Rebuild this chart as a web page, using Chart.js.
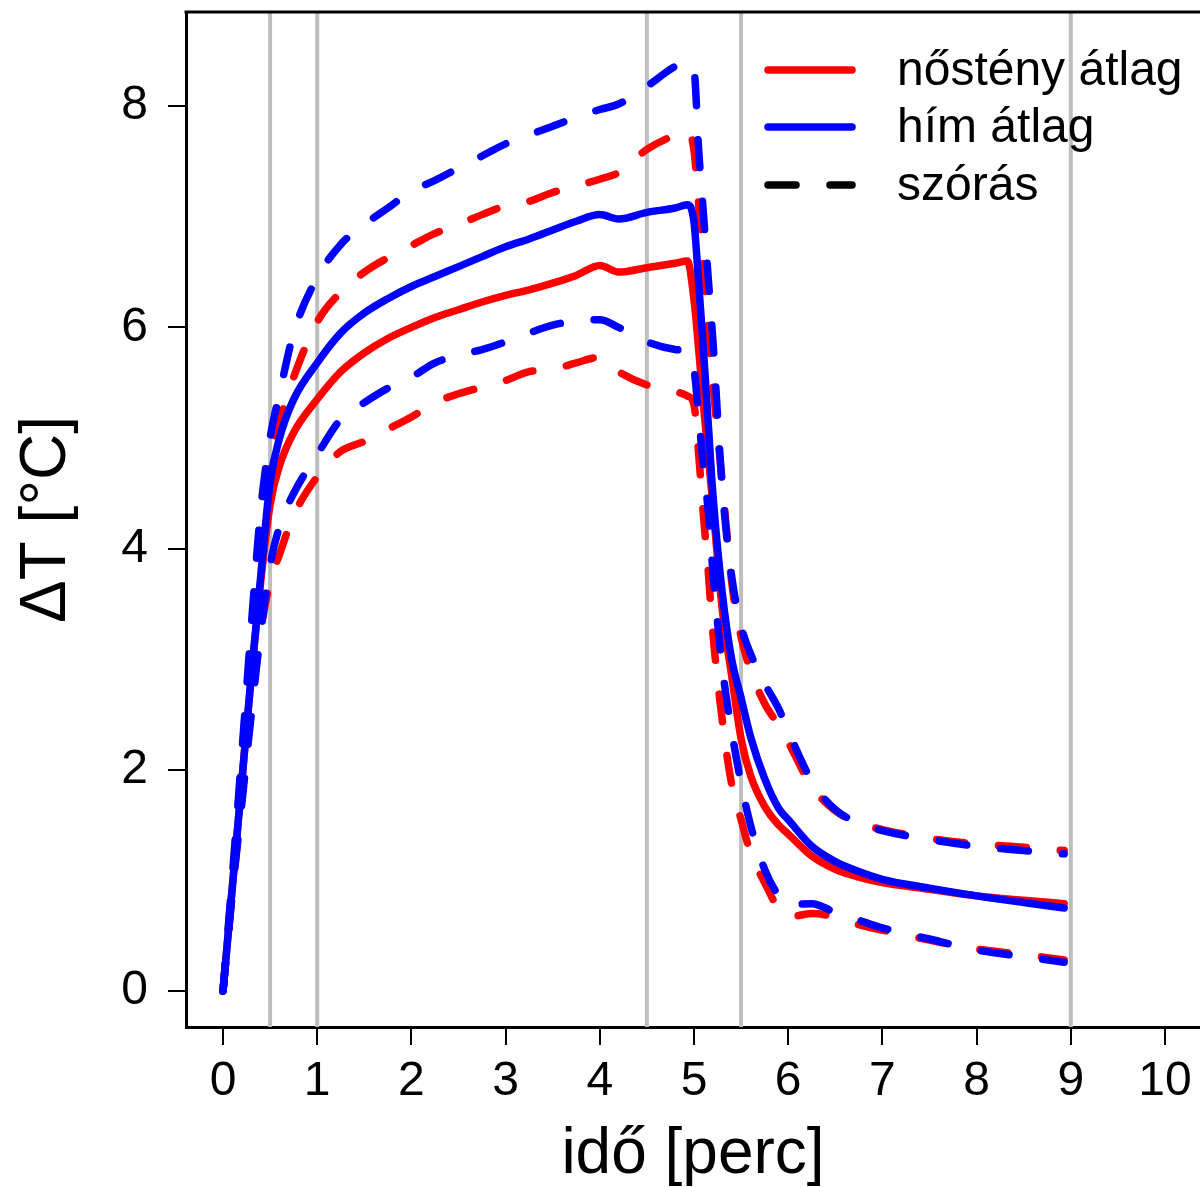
<!DOCTYPE html>
<html>
<head>
<meta charset="utf-8">
<title>ΔT idő szerint</title>
<script src="https://cdn.jsdelivr.net/npm/chart.js@4.4.1/dist/chart.umd.min.js"></script>
<style>
    html, body { margin: 0; padding: 0; background: #fff; overflow: hidden; }
    #wrap { width: 1200px; height: 1187px; }
</style>
</head>
<body>
<div id="wrap"><canvas id="chart" width="1200" height="1187"></canvas></div>
<script>
// Idő (perc)
const TIME = [0, 0.1, 0.2, 0.3, 0.4,
    0.5, 0.6, 0.75, 1.0, 1.25,
    1.5, 1.75, 2.0, 2.25, 2.5,
    2.75, 3.0, 3.25, 3.5, 3.75,
    4.0, 4.2, 4.5, 4.8, 4.93,
    5.0, 5.05, 5.1, 5.15, 5.2,
    5.3, 5.4, 5.5, 5.6, 5.75,
    5.9, 6.0, 6.25, 6.5, 6.75,
    7.0, 7.5, 8.0, 8.5, 8.93];

// nőstény átlag
const FEMALE_MEAN = [0, 0.95, 1.9, 2.85, 3.7,
    4.4, 4.75, 5.05, 5.35, 5.6,
    5.77, 5.9, 6.0, 6.09, 6.16,
    6.23, 6.29, 6.34, 6.4, 6.47,
    6.56, 6.5, 6.54, 6.58, 6.6,
    6.25, 5.8, 5.3, 4.85, 4.4,
    3.45, 2.85, 2.28, 1.95, 1.67,
    1.5, 1.42, 1.22, 1.1, 1.03,
    0.98, 0.92, 0.86, 0.82, 0.79];

// hím átlag
const MALE_MEAN = [0, 0.95, 1.9, 2.85, 3.75,
    4.6, 5.0, 5.35, 5.68, 5.95,
    6.13, 6.26, 6.37, 6.46, 6.55,
    6.64, 6.73, 6.8, 6.88, 6.96,
    7.02, 6.98, 7.04, 7.08, 7.11,
    6.95, 6.4, 5.8, 5.15, 4.5,
    3.6, 3.0, 2.65, 2.3, 1.92,
    1.65, 1.55, 1.31, 1.17, 1.08,
    1.01, 0.93, 0.86, 0.8, 0.75];

// átlag +/- szórás
const FEMALE_UPPER = [0, 1.0, 2.1, 3.2, 4.2,
    4.85, 5.15, 5.55, 6.05, 6.32,
    6.5, 6.63, 6.74, 6.85, 6.93,
    7.02, 7.1, 7.14, 7.22, 7.28,
    7.34, 7.4, 7.61, 7.74, 7.78,
    7.6, 7.1, 6.55, 6.0, 5.5,
    4.6, 3.7, 3.2, 2.9, 2.6,
    2.4, 2.25, 1.85, 1.63, 1.52,
    1.46, 1.38, 1.33, 1.3, 1.27];

const FEMALE_LOWER = [0, 0.9, 1.75, 2.55, 3.25,
    3.7, 3.95, 4.3, 4.65, 4.88,
    4.97, 5.08, 5.19, 5.32, 5.4,
    5.46, 5.52, 5.6, 5.62, 5.68,
    5.73, 5.6, 5.48, 5.42, 5.38,
    5.3, 4.85, 4.3, 3.81, 3.24,
    2.45, 1.87, 1.55, 1.25, 0.98,
    0.74, 0.67, 0.7, 0.67, 0.6,
    0.55, 0.46, 0.38, 0.33, 0.28];

const MALE_UPPER = [0, 1.05, 2.15, 3.3, 4.35,
    5.0, 5.4, 5.95, 6.45, 6.75,
    6.93, 7.08, 7.23, 7.33, 7.44,
    7.55, 7.66, 7.74, 7.82, 7.9,
    7.97, 8.02, 8.18, 8.36, 8.4,
    8.33, 7.6, 7.03, 6.46, 5.89,
    4.55, 3.75, 3.3, 3.05, 2.78,
    2.55, 2.35, 1.9, 1.64, 1.52,
    1.45, 1.37, 1.31, 1.27, 1.24];

const MALE_LOWER = [0, 0.9, 1.7, 2.5, 3.25,
    3.85, 4.2, 4.5, 4.85, 5.17,
    5.32, 5.45, 5.55, 5.68, 5.75,
    5.8, 5.87, 5.95, 6.02, 6.06,
    6.07, 6.0, 5.87, 5.8, 5.77,
    5.62, 5.2, 4.74, 4.35, 3.8,
    2.93, 2.35, 1.88, 1.5, 1.1,
    0.86, 0.78, 0.79, 0.71, 0.64,
    0.57, 0.47, 0.37, 0.31, 0.26];

const X_TICKS = [0, 1, 2, 3, 4, 5, 6, 7, 8, 9, 10];
const Y_TICKS = [0, 2, 4, 6, 8];
const MARKER_LINES = [0.5, 1, 4.5, 5.5, 9];
const LEGEND_LABELS = ['nőstény átlag', 'hím átlag', 'szórás'];

const FONT = "'Liberation Sans', Arial, Helvetica, sans-serif";
const RED = '#ff0000';
const BLUE = '#0000ff';
const DASH = [28, 34];

function pts(values) {
    return TIME.map((t, i) => ({ x: t, y: values[i] }));
}

function series(label, values, color, dashed, order) {
    return {
        label: label,
        data: pts(values),
        borderColor: color,
        backgroundColor: color,
        borderWidth: 7.5,
        borderDash: dashed ? DASH : [],
        borderCapStyle: 'round',
        borderJoinStyle: 'round',
        pointRadius: 0,
        cubicInterpolationMode: 'monotone',
        fill: false,
        order: order
    };
}

// szürke függőleges vonalak
const markerPlugin = {
    id: 'markers',
    beforeDatasetsDraw(chart) {
        const { ctx, chartArea, scales } = chart;
        ctx.save();
        ctx.strokeStyle = '#bebebe';
        ctx.lineWidth = 4;
        MARKER_LINES.forEach(v => {
            const x = scales.x.getPixelForValue(v);
            ctx.beginPath();
            ctx.moveTo(x, chartArea.top);
            ctx.lineTo(x, chartArea.bottom);
            ctx.stroke();
        });
        ctx.restore();
    }
};

// keret felső vonala + jelmagyarázat
const framePlugin = {
    id: 'frame',
    afterDraw(chart) {
        const { ctx, chartArea } = chart;
        ctx.save();
        ctx.strokeStyle = '#000';
        ctx.lineWidth = 3;
        ctx.beginPath();
        ctx.moveTo(chartArea.left - 1.5, chartArea.top);
        ctx.lineTo(chartArea.right + 2, chartArea.top);
        ctx.stroke();

        const colors = [RED, BLUE, '#000'];
        const rows = [70, 127, 185];
        ctx.lineCap = 'round';
        ctx.lineWidth = 7.5;
        LEGEND_LABELS.forEach((label, i) => {
            ctx.strokeStyle = colors[i];
            ctx.setLineDash(i === 2 ? DASH : []);
            ctx.beginPath();
            ctx.moveTo(768, rows[i]);
            ctx.lineTo(852, rows[i]);
            ctx.stroke();
            ctx.setLineDash([]);
            ctx.fillStyle = '#000';
            ctx.font = '48px ' + FONT;
            ctx.textBaseline = 'middle';
            ctx.textAlign = 'left';
            ctx.fillText(label, 897, rows[i] + 2);
        });
        ctx.restore();
    }
};

Chart.defaults.font.family = FONT;
Chart.defaults.color = '#000';

new Chart(document.getElementById('chart'), {
    type: 'line',
    data: {
        datasets: [
            series('nőstény átlag', FEMALE_MEAN, RED, false, 4),
            series('nőstény +szórás', FEMALE_UPPER, RED, true, 3),
            series('nőstény -szórás', FEMALE_LOWER, RED, true, 3),
            series('hím átlag', MALE_MEAN, BLUE, false, 2),
            series('hím +szórás', MALE_UPPER, BLUE, true, 1),
            series('hím -szórás', MALE_LOWER, BLUE, true, 1)
        ]
    },
    options: {
        responsive: false,
        animation: false,
        devicePixelRatio: 1,
        layout: { padding: { top: 12, right: 0, bottom: 0, left: 0 } },
        plugins: {
            legend: { display: false },
            tooltip: { enabled: false }
        },
        scales: {
            x: {
                type: 'linear',
                min: -0.393,
                max: 10.372,
                afterFit(scale) {
                    scale.height = 160;
                    scale.paddingLeft = 0;
                    scale.paddingRight = 0;
                },
                afterBuildTicks(scale) { scale.ticks = X_TICKS.map(v => ({ value: v })); },
                grid: { drawOnChartArea: false, drawTicks: true, tickLength: 18, color: '#000', lineWidth: 2 },
                border: { display: true, color: '#000', width: 3 },
                ticks: { font: { size: 48 }, padding: 8, maxRotation: 0, autoSkip: false },
                title: { display: true, text: 'idő [perc]', font: { size: 64, lineHeight: 1 }, padding: { top: 0, bottom: 0 } }
            },
            y: {
                type: 'linear',
                min: -0.3255,
                max: 8.852,
                afterFit(scale) {
                    scale.width = 186;
                    scale.paddingTop = 0;
                    scale.paddingBottom = 0;
                },
                afterBuildTicks(scale) { scale.ticks = Y_TICKS.map(v => ({ value: v })); },
                grid: { drawOnChartArea: false, drawTicks: true, tickLength: 18, color: '#000', lineWidth: 2 },
                border: { display: true, color: '#000', width: 3 },
                ticks: { font: { size: 48 }, padding: 20, autoSkip: false },
                title: { display: true, text: 'ΔT [°C]', font: { size: 64, lineHeight: 1 }, padding: { top: 15, bottom: 0 } }
            }
        }
    },
    plugins: [markerPlugin, framePlugin]
});
</script>
</body>
</html>
